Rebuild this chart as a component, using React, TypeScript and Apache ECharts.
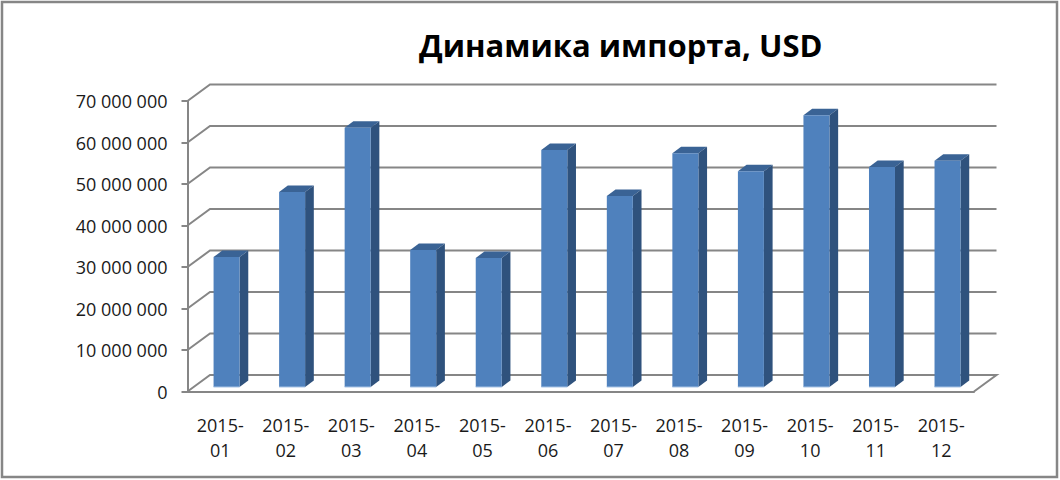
import React, { useEffect, useRef } from "react";
import * as echarts from "echarts";

const titleText = "Динамика импорта, USD";
const categories = ["2015-01","2015-02","2015-03","2015-04","2015-05","2015-06","2015-07","2015-08","2015-09","2015-10","2015-11","2015-12"];
const imports = [31300000,47000000,62500000,33000000,31100000,57100000,46000000,56300000,52000000,65500000,53000000,54500000];
const yTicks = [0,10000000,20000000,30000000,40000000,50000000,60000000,70000000];

const AXIS = "#868686";
const FONT = "'Open Sans', sans-serif";
const WALL_DX = 22.5, WALL_DY = 16.5;
const BAR_DX = 6.3, BAR_DY = 4.5, BAR_W = 26, SIDE_DX = 8.7, SIDE_DY = 6.5;

const fmt = (v: number) => String(v).replace(/\B(?=(\d{3})+$)/g, " ");

export default function App() {
  const ref = useRef<HTMLDivElement>(null);
  useEffect(() => {
    const chart = echarts.init(ref.current!, null, { renderer: "svg" });
    chart.setOption({
      animation: false,
      backgroundColor: "#fff",
      title: { text: titleText, left: 414, top: 24, textStyle: { fontFamily: FONT, fontWeight: "bold", fontSize: 31, color: "#000" } },
      grid: { left: 187.5, right: 86, top: 101, bottom: 88.5 },
      graphic: [{ type: "rect", silent: true, z: 100, shape: { x: 2, y: 2, width: 1055, height: 475 }, style: { fill: "none", stroke: AXIS, lineWidth: 2.5 } }],
      xAxis: {
        type: "category", data: categories,
        axisLine: { lineStyle: { color: AXIS, width: 2 } },
        axisTick: { length: 6, lineStyle: { color: AXIS, width: 2 } },
        axisLabel: {
          fontFamily: FONT, fontSize: 18, color: "#1a1a1a", margin: 21, lineHeight: 25, interval: 0,
          formatter: (v: string) => v.replace("-", "-\n"),
        },
      },
      yAxis: {
        type: "value", min: 0, max: 70000000, interval: 10000000,
        splitLine: { show: false },
        axisLine: { show: true, lineStyle: { color: AXIS, width: 2 } },
        axisTick: { show: true, length: 6, lineStyle: { color: AXIS, width: 2 } },
        axisLabel: { fontFamily: FONT, fontSize: 18, color: "#1a1a1a", margin: 20, formatter: fmt },
      },
      series: [
        {
          type: "custom", z: 1, clip: false, silent: true, data: yTicks.map((v) => [0, v]),
          encode: { x: 0, y: 1 },
          renderItem: (params: any, api: any) => {
            const v = api.value(1);
            const y = api.coord([0, v])[1];
            const cs = params.coordSys;
            const x0 = cs.x, x1 = cs.x + cs.width;
            const points = v === 0
              ? [[x0, y], [x0 + WALL_DX, y - WALL_DY], [x1 + WALL_DX, y - WALL_DY], [x1, y]]
              : [[x0, y], [x0 + WALL_DX, y - WALL_DY], [x1 + WALL_DX, y - WALL_DY]];
            return { type: "polyline", shape: { points }, style: { fill: "none", stroke: AXIS, lineWidth: 2 } };
          },
        },
        {
          type: "custom", z: 2, clip: false, silent: true, data: imports.map((v, i) => [i, v]),
          encode: { x: 0, y: 1 },
          renderItem: (_: any, api: any) => {
            const i = api.value(0);
            const top = api.coord([i, api.value(1)]);
            const base = api.coord([i, 0]);
            const xl = top[0] + BAR_DX - BAR_W / 2, xr = xl + BAR_W;
            const yt = top[1] - BAR_DY, yb = base[1] - BAR_DY;
            return {
              type: "group",
              children: [
                { type: "polygon", shape: { points: [[xl, yt], [xr, yt], [xr + SIDE_DX, yt - SIDE_DY], [xl + SIDE_DX, yt - SIDE_DY]] }, style: { fill: "#3a6395" } },
                { type: "polygon", shape: { points: [[xr, yt], [xr + SIDE_DX, yt - SIDE_DY], [xr + SIDE_DX, yb - SIDE_DY], [xr, yb]] }, style: { fill: "#2f527d" } },
                { type: "rect", shape: { x: xl, y: yt, width: BAR_W, height: yb - yt }, style: { fill: "#4f81bd" } },
                { type: "line", shape: { x1: xl, y1: yb, x2: xr, y2: yb }, style: { stroke: "#a9c4e6", lineWidth: 1 } },
              ],
            };
          },
        },
      ],
    });
    return () => chart.dispose();
  }, []);
  return <div ref={ref} style={{ position: "fixed", left: 0, top: 0, width: 1060, height: 480 }} />;
}
